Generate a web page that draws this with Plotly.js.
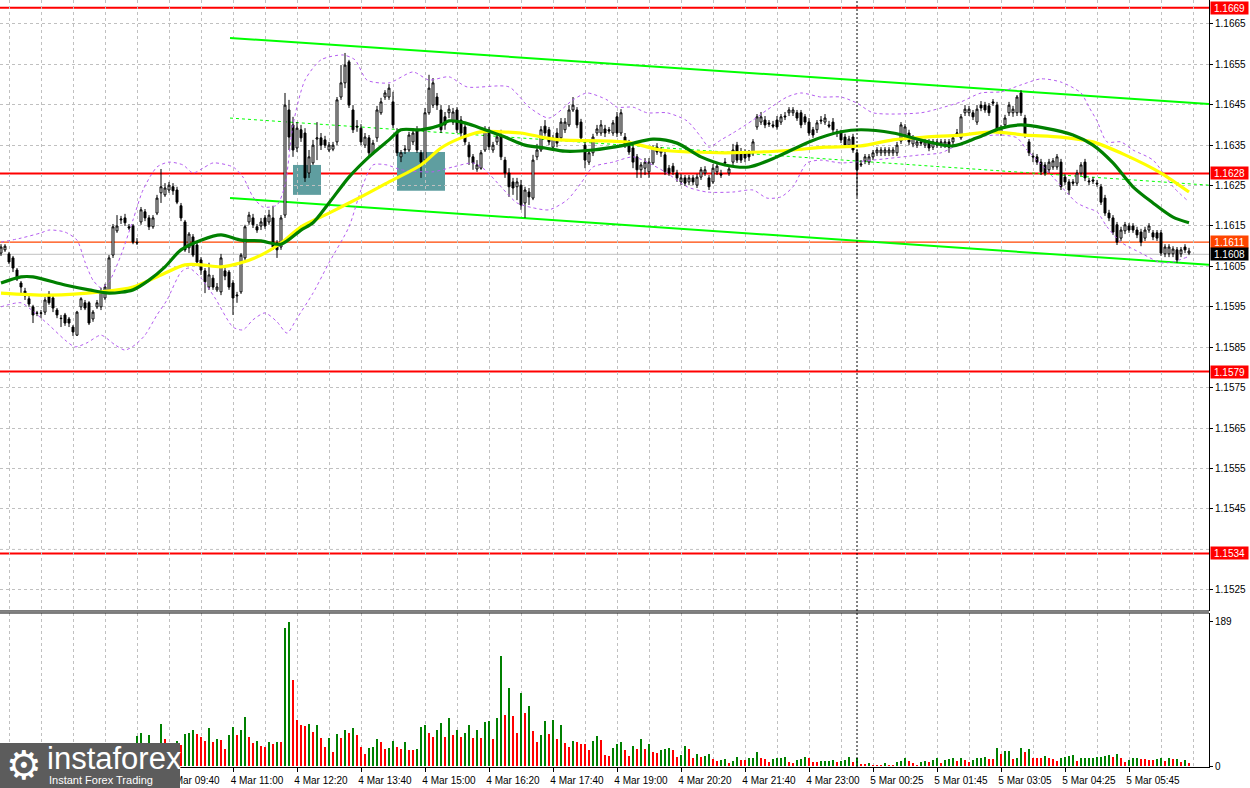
<!DOCTYPE html>
<html>
<head>
<meta charset="utf-8">
<script src="https://cdn.plot.ly/plotly-3.0.1.min.js"></script>
<style>html,body{margin:0;padding:0;background:#fff;}#chart{width:1250px;height:788px;}</style>
</head>
<body>
<div id="chart"></div>
<script>
// ---- candle data (EUR/USD M5) ----
const open = [1.16083,1.16091,1.16081,1.16071,1.16041,1.16009,1.15989,1.15970,1.15950,1.15935,
1.15934,1.15937,1.15982,1.15972,1.15942,1.15922,1.15930,1.15920,1.15900,1.15880,
1.15950,1.15960,1.15960,1.15920,1.15950,1.15950,1.15972,1.15987,1.16078,1.16138,
1.16165,1.16170,1.16148,1.16150,1.16110,1.16160,1.16185,1.16170,1.16148,1.16182,
1.16232,1.16227,1.16239,1.16247,1.16239,1.16200,1.16160,1.16096,1.16123,1.16103,
1.16066,1.16039,1.15999,1.16021,1.15992,1.15987,1.16039,1.16036,1.16009,1.15977,
1.15987,1.16071,1.16160,1.16170,1.16148,1.16150,1.16170,1.16160,1.16170,1.16108,
1.16098,1.16177,1.16437,1.16400,1.16343,1.16388,1.16380,1.16281,1.16306,1.16365,
1.16368,1.16363,1.16338,1.16340,1.16358,1.16469,1.16504,1.16556,1.16437,1.16397,
1.16392,1.16350,1.16368,1.16331,1.16368,1.16430,1.16469,1.16469,1.16457,1.16383,
1.16321,1.16338,1.16338,1.16358,1.16388,1.16331,1.16313,1.16430,1.16449,1.16469,
1.16437,1.16420,1.16430,1.16407,1.16437,1.16412,1.16395,1.16350,1.16321,1.16291,
1.16293,1.16338,1.16388,1.16338,1.16358,1.16375,1.16313,1.16281,1.16259,1.16247,
1.16251,1.16207,1.16234,1.16219,1.16321,1.16338,1.16397,1.16388,1.16345,1.16380,
1.16368,1.16388,1.16400,1.16437,1.16437,1.16407,1.16350,1.16308,1.16331,1.16380,
1.16380,1.16390,1.16388,1.16380,1.16420,1.16380,1.16370,1.16355,1.16343,1.16321,
1.16289,1.16293,1.16284,1.16306,1.16345,1.16331,1.16326,1.16293,1.16298,1.16281,
1.16259,1.16269,1.16259,1.16269,1.16251,1.16271,1.16281,1.16269,1.16259,1.16284,
1.16279,1.16308,1.16281,1.16308,1.16350,1.16333,1.16333,1.16331,1.16331,1.16395,
1.16407,1.16412,1.16405,1.16400,1.16412,1.16407,1.16422,1.16430,1.16430,1.16430,
1.16430,1.16420,1.16407,1.16388,1.16388,1.16412,1.16407,1.16400,1.16407,1.16383,
1.16380,1.16370,1.16350,1.16370,1.16331,1.16301,1.16311,1.16308,1.16321,1.16331,
1.16331,1.16331,1.16331,1.16331,1.16331,1.16360,1.16375,1.16380,1.16353,1.16350,
1.16358,1.16350,1.16358,1.16345,1.16350,1.16350,1.16350,1.16358,1.16358,1.16378,
1.16368,1.16430,1.16430,1.16430,1.16407,1.16449,1.16449,1.16447,1.16457,1.16449,
1.16380,1.16400,1.16430,1.16430,1.16430,1.16479,1.16417,1.16358,1.16323,1.16321,
1.16308,1.16301,1.16289,1.16296,1.16296,1.16308,1.16271,1.16259,1.16259,1.16256,
1.16281,1.16308,1.16259,1.16264,1.16256,1.16247,1.16219,1.16182,1.16170,1.16153,
1.16120,1.16138,1.16150,1.16150,1.16140,1.16135,1.16120,1.16140,1.16133,1.16133,
1.16133,1.16081,1.16081,1.16081,1.16091,1.16081,1.16098,1.16083];
const high = [1.16105,1.16105,1.16086,1.16076,1.16046,1.16014,1.15997,1.15977,1.15955,1.15940,
1.15942,1.15974,1.15989,1.15977,1.15947,1.15930,1.15935,1.15925,1.15905,1.15940,
1.15974,1.15967,1.15964,1.15942,1.15967,1.15997,1.16007,1.16078,1.16155,1.16177,
1.16175,1.16180,1.16155,1.16155,1.16120,1.16197,1.16192,1.16177,1.16177,1.16227,
1.16291,1.16256,1.16259,1.16256,1.16247,1.16207,1.16165,1.16135,1.16130,1.16108,
1.16073,1.16046,1.16059,1.16029,1.16009,1.16081,1.16046,1.16041,1.16016,1.15987,
1.16083,1.16153,1.16185,1.16180,1.16155,1.16170,1.16177,1.16190,1.16200,1.16115,
1.16177,1.16479,1.16462,1.16420,1.16407,1.16400,1.16392,1.16338,1.16363,1.16407,
1.16380,1.16373,1.16358,1.16358,1.16469,1.16548,1.16578,1.16561,1.16449,1.16412,
1.16402,1.16380,1.16375,1.16363,1.16447,1.16467,1.16486,1.16501,1.16482,1.16392,
1.16338,1.16350,1.16383,1.16392,1.16397,1.16338,1.16442,1.16524,1.16516,1.16479,
1.16449,1.16432,1.16449,1.16442,1.16444,1.16422,1.16402,1.16358,1.16328,1.16313,
1.16338,1.16397,1.16395,1.16358,1.16380,1.16388,1.16321,1.16293,1.16269,1.16269,
1.16264,1.16247,1.16244,1.16326,1.16353,1.16397,1.16412,1.16395,1.16375,1.16392,
1.16417,1.16417,1.16449,1.16469,1.16444,1.16415,1.16358,1.16338,1.16378,1.16400,
1.16412,1.16400,1.16395,1.16412,1.16432,1.16439,1.16380,1.16363,1.16350,1.16328,
1.16308,1.16318,1.16318,1.16350,1.16355,1.16345,1.16338,1.16301,1.16306,1.16289,
1.16279,1.16276,1.16276,1.16276,1.16279,1.16296,1.16298,1.16276,1.16303,1.16308,
1.16289,1.16318,1.16301,1.16353,1.16358,1.16343,1.16340,1.16338,1.16365,1.16427,
1.16432,1.16422,1.16412,1.16410,1.16422,1.16427,1.16432,1.16444,1.16444,1.16437,
1.16437,1.16427,1.16417,1.16395,1.16412,1.16422,1.16427,1.16410,1.16417,1.16390,
1.16388,1.16378,1.16373,1.16378,1.16338,1.16313,1.16328,1.16328,1.16338,1.16345,
1.16345,1.16345,1.16345,1.16345,1.16358,1.16407,1.16402,1.16388,1.16375,1.16365,
1.16365,1.16365,1.16365,1.16365,1.16365,1.16365,1.16365,1.16365,1.16375,1.16390,
1.16427,1.16449,1.16447,1.16437,1.16449,1.16459,1.16457,1.16454,1.16464,1.16457,
1.16400,1.16425,1.16457,1.16447,1.16474,1.16486,1.16425,1.16365,1.16331,1.16328,
1.16316,1.16308,1.16316,1.16318,1.16328,1.16316,1.16279,1.16266,1.16266,1.16289,
1.16308,1.16316,1.16269,1.16271,1.16264,1.16254,1.16227,1.16190,1.16177,1.16160,
1.16148,1.16160,1.16157,1.16157,1.16148,1.16143,1.16148,1.16157,1.16140,1.16140,
1.16140,1.16105,1.16105,1.16100,1.16098,1.16098,1.16105,1.16096];
const low = [1.16076,1.16086,1.16056,1.16036,1.16014,1.15979,1.15967,1.15950,1.15910,1.15927,
1.15922,1.15930,1.15955,1.15937,1.15922,1.15900,1.15903,1.15900,1.15878,1.15878,
1.15942,1.15942,1.15905,1.15913,1.15945,1.15942,1.15967,1.15982,1.16071,1.16133,
1.16155,1.16150,1.16140,1.16105,1.16103,1.16153,1.16162,1.16140,1.16143,1.16177,
1.16207,1.16222,1.16232,1.16227,1.16204,1.16162,1.16086,1.16083,1.16073,1.16051,
1.16029,1.15984,1.15992,1.15992,1.15987,1.15979,1.16016,1.15992,1.15930,1.15960,
1.15982,1.16066,1.16153,1.16145,1.16133,1.16140,1.16143,1.16153,1.16091,1.16071,
1.16091,1.16170,1.16338,1.16321,1.16333,1.16358,1.16259,1.16269,1.16301,1.16313,
1.16338,1.16343,1.16333,1.16335,1.16350,1.16462,1.16491,1.16442,1.16380,1.16383,
1.16350,1.16343,1.16323,1.16326,1.16358,1.16425,1.16462,1.16462,1.16392,1.16323,
1.16308,1.16328,1.16333,1.16350,1.16331,1.16269,1.16306,1.16425,1.16442,1.16437,
1.16380,1.16388,1.16417,1.16400,1.16380,1.16368,1.16350,1.16301,1.16289,1.16284,
1.16289,1.16333,1.16338,1.16331,1.16350,1.16313,1.16269,1.16222,1.16227,1.16214,
1.16190,1.16170,1.16202,1.16214,1.16313,1.16333,1.16373,1.16350,1.16338,1.16345,
1.16360,1.16380,1.16395,1.16432,1.16392,1.16360,1.16293,1.16301,1.16323,1.16373,
1.16373,1.16370,1.16378,1.16373,1.16370,1.16373,1.16343,1.16326,1.16293,1.16269,
1.16269,1.16276,1.16269,1.16301,1.16326,1.16321,1.16276,1.16274,1.16276,1.16259,
1.16251,1.16249,1.16251,1.16251,1.16244,1.16264,1.16274,1.16239,1.16254,1.16276,
1.16269,1.16298,1.16274,1.16301,1.16306,1.16306,1.16308,1.16311,1.16323,1.16388,
1.16400,1.16392,1.16395,1.16392,1.16388,1.16400,1.16412,1.16422,1.16422,1.16410,
1.16392,1.16400,1.16373,1.16368,1.16380,1.16402,1.16400,1.16392,1.16380,1.16370,
1.16355,1.16343,1.16343,1.16331,1.16222,1.16296,1.16303,1.16301,1.16313,1.16323,
1.16323,1.16323,1.16323,1.16323,1.16323,1.16353,1.16368,1.16350,1.16345,1.16343,
1.16348,1.16343,1.16335,1.16338,1.16343,1.16343,1.16343,1.16331,1.16350,1.16370,
1.16363,1.16422,1.16422,1.16412,1.16400,1.16434,1.16430,1.16422,1.16447,1.16380,
1.16373,1.16392,1.16422,1.16420,1.16422,1.16422,1.16368,1.16323,1.16308,1.16301,
1.16276,1.16274,1.16281,1.16289,1.16289,1.16239,1.16251,1.16227,1.16249,1.16249,
1.16274,1.16261,1.16251,1.16254,1.16247,1.16202,1.16175,1.16162,1.16128,1.16103,
1.16113,1.16130,1.16133,1.16133,1.16120,1.16100,1.16113,1.16133,1.16115,1.16113,
1.16076,1.16073,1.16073,1.16073,1.16059,1.16073,1.16083,1.16078];
const close = [1.16098,1.16100,1.16061,1.16046,1.16019,1.15999,1.15977,1.15957,1.15930,1.15934,
1.15935,1.15967,1.15960,1.15947,1.15930,1.15921,1.15910,1.15910,1.15888,1.15937,
1.15970,1.15947,1.15910,1.15937,1.15960,1.15987,1.15999,1.16071,1.16148,1.16150,
1.16167,1.16158,1.16145,1.16110,1.16108,1.16190,1.16170,1.16148,1.16170,1.16219,
1.16247,1.16244,1.16251,1.16237,1.16209,1.16170,1.16091,1.16130,1.16078,1.16061,
1.16041,1.16012,1.16029,1.15999,1.15999,1.16071,1.16026,1.15999,1.15972,1.15979,
1.16078,1.16148,1.16177,1.16153,1.16140,1.16160,1.16150,1.16177,1.16098,1.16091,
1.16170,1.16449,1.16370,1.16338,1.16392,1.16368,1.16269,1.16321,1.16350,1.16368,
1.16350,1.16350,1.16350,1.16350,1.16462,1.16504,1.16548,1.16449,1.16388,1.16395,
1.16358,1.16370,1.16331,1.16355,1.16437,1.16457,1.16479,1.16491,1.16400,1.16331,
1.16331,1.16340,1.16375,1.16380,1.16338,1.16308,1.16430,1.16491,1.16504,1.16449,
1.16388,1.16400,1.16439,1.16432,1.16388,1.16380,1.16358,1.16321,1.16306,1.16301,
1.16331,1.16388,1.16346,1.16350,1.16370,1.16321,1.16281,1.16247,1.16244,1.16259,
1.16202,1.16239,1.16222,1.16313,1.16338,1.16388,1.16380,1.16358,1.16368,1.16355,
1.16407,1.16407,1.16437,1.16449,1.16400,1.16368,1.16313,1.16331,1.16370,1.16390,
1.16400,1.16380,1.16385,1.16405,1.16380,1.16430,1.16350,1.16333,1.16308,1.16289,
1.16301,1.16308,1.16308,1.16343,1.16333,1.16338,1.16284,1.16281,1.16284,1.16269,
1.16269,1.16256,1.16269,1.16259,1.16271,1.16289,1.16289,1.16247,1.16293,1.16298,
1.16276,1.16306,1.16291,1.16338,1.16313,1.16313,1.16318,1.16321,1.16358,1.16420,
1.16420,1.16400,1.16402,1.16397,1.16395,1.16420,1.16420,1.16437,1.16437,1.16417,
1.16400,1.16407,1.16380,1.16375,1.16405,1.16410,1.16417,1.16397,1.16388,1.16380,
1.16363,1.16350,1.16365,1.16338,1.16289,1.16303,1.16321,1.16321,1.16331,1.16338,
1.16338,1.16338,1.16338,1.16338,1.16350,1.16400,1.16395,1.16358,1.16368,1.16358,
1.16355,1.16358,1.16343,1.16358,1.16358,1.16358,1.16358,1.16345,1.16368,1.16380,
1.16420,1.16439,1.16439,1.16420,1.16439,1.16442,1.16437,1.16430,1.16454,1.16388,
1.16392,1.16417,1.16449,1.16439,1.16469,1.16430,1.16375,1.16331,1.16321,1.16308,
1.16284,1.16281,1.16308,1.16311,1.16321,1.16247,1.16259,1.16239,1.16256,1.16281,
1.16301,1.16269,1.16261,1.16261,1.16254,1.16209,1.16182,1.16170,1.16135,1.16110,
1.16140,1.16153,1.16140,1.16140,1.16128,1.16110,1.16140,1.16150,1.16123,1.16120,
1.16083,1.16098,1.16098,1.16093,1.16066,1.16091,1.16091,1.16088];

// tick volumes
const volume = [18,22,15,20,25,19,16,21,26,14,
12,20,23,17,15,19,22,18,24,27,
21,16,23,19,14,22,20,26,28,18,
13,16,12,25,39,43,28,41,26,24,
55,35,28,25,33,27,42,43,47,42,
38,33,50,31,35,34,22,41,51,41,
47,64,38,30,33,26,25,31,29,31,
31,181,189,113,60,54,52,55,45,54,
37,25,37,18,42,37,47,43,50,41,
25,16,24,25,35,31,22,24,33,25,
22,31,21,21,22,51,54,43,38,47,
56,38,63,41,47,38,43,54,37,47,
37,58,59,35,63,144,67,102,65,43,
96,69,79,46,31,41,59,42,60,35,
54,30,25,33,31,29,29,21,33,39,
34,14,13,24,29,31,21,13,26,22,
35,22,29,18,17,21,22,23,21,12,
14,26,22,10,16,12,13,16,9,7,
8,9,4,7,12,8,8,10,11,18,
10,9,5,9,10,11,12,5,4,8,
9,12,10,5,5,6,6.5,7,7.5,5,
7,8,12,5,10,3,3,4,1,1,
1,4,1,1,5,7,10,7,4,1,
5,7,5,8,10,4,8,9,10,7,
10,8,5,8,10,11,12,9,9,24,
16,19,20,9,10,23,18,22,10,10,
10,13,10,9,6,10,12,13,14,6,
10,10.3,10.6,10.9,11.2,11.5,13,14.4,12,16,
10.5,5,8,10.5,10.8,9,9,8,8,9,
10.5,6.5,10.5,9,9.5,5,8,4];

// moving averages (read at sample candles)
const maSlowX = [0,12,25,33,40,46,50,55,60,65,70,75,82,90,97,105,110,115,120,125,130,135,140,156,165,173,181,190,198,206,215,223,231,240,248,256,265,273,281,290,297];
const maSlowY = [1.15984,1.15979,1.15987,1.15999,1.16029,1.16054,1.16054,1.16049,1.16059,1.16078,1.16108,1.16148,1.16182,1.16222,1.16259,1.16301,1.16343,1.16368,1.16383,1.16383,1.16380,1.16370,1.16363,1.16358,1.16338,1.16333,1.16331,1.16333,1.16338,1.16345,1.16348,1.16363,1.16370,1.16375,1.16383,1.16375,1.16370,1.16358,1.16326,1.16281,1.16234];
const maFastX = [0,5,8,16,22,27,33,37,41,45,50,55,60,65,70,75,78,82,87,92,97,100,105,110,112,116,121,126,131,136,141,148,156,163,169,175,181,187,194,202,210,215,223,231,238,244,250,255,261,268,273,278,283,288,293,297];
const maFastY = [1.16009,1.16024,1.16024,1.16004,1.15992,1.15984,1.15992,1.16016,1.16049,1.16091,1.16115,1.16128,1.16115,1.16113,1.16105,1.16140,1.16158,1.16207,1.16271,1.16321,1.16363,1.16388,1.16388,1.16400,1.16410,1.16405,1.16388,1.16370,1.16350,1.16343,1.16335,1.16338,1.16350,1.16365,1.16355,1.16321,1.16301,1.16296,1.16321,1.16358,1.16383,1.16388,1.16380,1.16360,1.16348,1.16368,1.16392,1.16400,1.16392,1.16375,1.16350,1.16306,1.16247,1.16207,1.16172,1.16158];

// Bollinger bands
const bandUpX = [0,5,10,12,16,19,21,23,25,27,30,33,35.5,39,42,45.5,48,50.5,53,58,60.5,63,65.5,69,71,73,76,80,85.5,88.5,91.5,97,103,107,112,116.5,127,132,137,143,146.5,151.5,154,158,161.5,166.5,171.5,175,177,180,183,188,191.5,196.5,200,205,210,214,218,230,235,240,245,250,255,260,265,270,272,274,276.5,280,283,288,293,296.5];
const bandUpY = [1.16110,1.16120,1.16133,1.16140,1.16135,1.16115,1.16061,1.16016,1.15997,1.16012,1.16078,1.16165,1.16239,1.16296,1.16308,1.16301,1.16281,1.16293,1.16306,1.16296,1.16271,1.16222,1.16197,1.16202,1.16251,1.16400,1.16511,1.16561,1.16573,1.16561,1.16511,1.16504,1.16531,1.16511,1.16519,1.16494,1.16494,1.16444,1.16417,1.16462,1.16479,1.16462,1.16444,1.16444,1.16430,1.16430,1.16410,1.16370,1.16345,1.16363,1.16380,1.16412,1.16437,1.16469,1.16479,1.16469,1.16469,1.16454,1.16430,1.16430,1.16442,1.16457,1.16479,1.16482,1.16499,1.16514,1.16506,1.16479,1.16444,1.16410,1.16358,1.16358,1.16338,1.16313,1.16247,1.16214];
const bandLoX = [0,5,8.5,12,16,18.5,21.5,25,28.5,31,33.5,36,39,41.5,45,47,50,53.5,58,60.5,63,66,69,71.5,74,78,82,87,90,93,96.5,100,108,113,118,121,125,129,133,137,141.5,145,148,153,158,161.5,166.5,171.5,176.5,183,188,191.5,195,198,201.5,205,210,218,230,235,240,244,250,254,256.5,259,263,266.5,269,271.5,274,276.5,280,285,290,293,296.5];
const bandLoY = [1.15950,1.15960,1.15935,1.15905,1.15868,1.15851,1.15861,1.15880,1.15856,1.15843,1.15856,1.15880,1.15930,1.15967,1.16036,1.16046,1.16021,1.15972,1.15900,1.15893,1.15918,1.15935,1.15913,1.15885,1.15922,1.15984,1.16059,1.16148,1.16239,1.16301,1.16301,1.16289,1.16284,1.16296,1.16306,1.16289,1.16247,1.16207,1.16195,1.16190,1.16214,1.16256,1.16296,1.16308,1.16321,1.16308,1.16281,1.16247,1.16234,1.16234,1.16239,1.16219,1.16222,1.16247,1.16306,1.16313,1.16306,1.16313,1.16326,1.16331,1.16355,1.16370,1.16375,1.16368,1.16338,1.16313,1.16271,1.16232,1.16207,1.16195,1.16185,1.16148,1.16110,1.16083,1.16059,1.16061,1.16073];

// drawn objects
const channelUpper = {x: [57.25, 302], y: [1.16615, 1.16452]};
const channelLower = {x: [57.25, 302], y: [1.16219, 1.16054]};
const channelMid   = {x: [57.25, 302], y: [1.16417, 1.16251]};
const zones = [{x: [73, 80], y: [1.16227, 1.16301]}, {x: [99, 111], y: [1.16237, 1.16333]}];
const redLevels = [1.1669, 1.1628, 1.1579, 1.1534];
const orangeLevel = 1.1611;
const bidLevel = 1.1608;
const sessionMarker = 214;

// axis ticks (labels hidden under the logo / level boxes are left out)
const priceTicks = [1.1525,1.1545,1.1555,1.1565,1.1575,1.1585,1.1595,1.1605,1.1615,1.1625,1.1635,1.1645,1.1655,1.1665];
const priceGridExtra = [1.1535];
const tickIdx = [42,58,74,90,106,122,138,154,170,186,202,218,234,250,266,282];
const tickLabels = ["4 Mar 09:40","4 Mar 11:00","4 Mar 12:20","4 Mar 13:40","4 Mar 15:00","4 Mar 16:20","4 Mar 17:40","4 Mar 19:00","4 Mar 20:20","4 Mar 21:40","4 Mar 23:00","5 Mar 00:25","5 Mar 01:45","5 Mar 03:05","5 Mar 04:25","5 Mar 05:45"];
const volTicks = [0, 189];

// ---- build ----
const idx = open.map((_, i) => i);
const volColors = volume.map((v, i) => (i > 0 && v <= volume[i - 1]) ? '#ff0000' : '#008000');
const FONT = 'Liberation Sans, Arial, sans-serif';
const GRID = '#c0c0c0';

const traces = [
  {type: 'candlestick', x: idx, open: open, high: high, low: low, close: close,
   xaxis: 'x', yaxis: 'y', whiskerwidth: 0, hoverinfo: 'skip',
   increasing: {line: {color: '#000000', width: 1}, fillcolor: '#ffffff'},
   decreasing: {line: {color: '#000000', width: 1}, fillcolor: '#000000'}},
  {type: 'scatter', mode: 'lines', x: bandUpX, y: bandUpY, xaxis: 'x', yaxis: 'y',
   line: {color: '#b45cf0', width: 1, dash: '3px,3px', shape: 'spline', smoothing: 0.7}, hoverinfo: 'skip'},
  {type: 'scatter', mode: 'lines', x: bandLoX, y: bandLoY, xaxis: 'x', yaxis: 'y',
   line: {color: '#b45cf0', width: 1, dash: '3px,3px', shape: 'spline', smoothing: 0.7}, hoverinfo: 'skip'},
  {type: 'scatter', mode: 'lines', x: maSlowX, y: maSlowY, xaxis: 'x', yaxis: 'y',
   line: {color: '#ffff00', width: 3.2, shape: 'spline', smoothing: 0.8}, hoverinfo: 'skip'},
  {type: 'scatter', mode: 'lines', x: maFastX, y: maFastY, xaxis: 'x', yaxis: 'y',
   line: {color: '#008000', width: 3.2, shape: 'spline', smoothing: 0.8}, hoverinfo: 'skip'},
  {type: 'bar', x: idx, y: volume, xaxis: 'x', yaxis: 'y2', width: 0.72,
   marker: {color: volColors, line: {width: 0}}, hoverinfo: 'skip'}
];

const shapes = [];
zones.forEach(z => shapes.push({type: 'rect', xref: 'x', yref: 'y', x0: z.x[0], x1: z.x[1], y0: z.y[0], y1: z.y[1],
  fillcolor: '#5f9ea0', line: {width: 0}, layer: 'below'}));
priceGridExtra.forEach(p => shapes.push({type: 'line', xref: 'paper', yref: 'y', x0: 0, x1: 1, y0: p, y1: p,
  line: {color: GRID, width: 1, dash: '3px,3px'}, layer: 'below'}));
redLevels.forEach(p => shapes.push({type: 'line', xref: 'paper', yref: 'y', x0: 0, x1: 1, y0: p, y1: p,
  line: {color: '#ff0000', width: 2}, layer: 'between'}));
shapes.push({type: 'line', xref: 'paper', yref: 'y', x0: 0, x1: 1, y0: orangeLevel, y1: orangeLevel,
  line: {color: '#ff4500', width: 1.2}, layer: 'between'});
shapes.push({type: 'line', xref: 'paper', yref: 'y', x0: 0, x1: 1, y0: bidLevel, y1: bidLevel,
  line: {color: '#c0c0c0', width: 1}, layer: 'between'});
[channelUpper, channelLower].forEach(c => shapes.push({type: 'line', xref: 'x', yref: 'y',
  x0: c.x[0], x1: c.x[1], y0: c.y[0], y1: c.y[1], line: {color: '#00ff00', width: 2}, layer: 'between'}));
shapes.push({type: 'line', xref: 'x', yref: 'y', x0: channelMid.x[0], x1: channelMid.x[1], y0: channelMid.y[0], y1: channelMid.y[1],
  line: {color: '#00ff00', width: 1, dash: '3px,3px'}, layer: 'between'});
shapes.push({type: 'line', xref: 'x', yref: 'paper', x0: sessionMarker, x1: sessionMarker, y0: 0, y1: 1,
  line: {color: '#000000', width: 1, dash: '2px,2px'}, layer: 'above'});
// panel separators
shapes.push({type: 'line', xref: 'paper', yref: 'paper', x0: 0, x1: 1, y0: 0.2034, y1: 0.2034, line: {color: '#000', width: 1}});
shapes.push({type: 'line', xref: 'paper', yref: 'paper', x0: 0, x1: 1, y0: 0.2008, y1: 0.2008, line: {color: '#000', width: 1}});
// logo box
shapes.push({type: 'rect', xref: 'paper', yref: 'paper', x0: -0.002, x1: 180/1209, y0: -22/767, y1: 24/767,
  fillcolor: '#5c5c5c', line: {width: 0}, layer: 'above'});

const annotations = [];
function levelTag(p, bg) {
  annotations.push({xref: 'paper', yref: 'y', x: 1, y: p, xanchor: 'left', yanchor: 'middle', xshift: 1,
    text: p.toFixed(4), showarrow: false, bgcolor: bg, borderpad: 0, width: 37, height: 12,
    font: {family: FONT, size: 10, color: '#ffffff'}});
}
redLevels.forEach(p => levelTag(p, '#ff0000'));
levelTag(orangeLevel, '#ff4500');
levelTag(bidLevel, '#000000');
annotations.push({xref: 'paper', yref: 'paper', x: 24/1209, y: 2/767, xanchor: 'center', yanchor: 'middle',
  text: '⚙', showarrow: false, borderpad: 0, font: {family: 'DejaVu Sans', size: 40, color: '#ffffff'}});
annotations.push({xref: 'paper', yref: 'paper', x: 45/1209, y: 9/767, xanchor: 'left', yanchor: 'middle',
  text: 'instaforex', showarrow: false, font: {family: FONT, size: 31, color: '#ffffff'}});
annotations.push({xref: 'paper', yref: 'paper', x: 47/1209, y: -13/767, xanchor: 'left', yanchor: 'middle',
  text: 'Instant Forex Trading', showarrow: false, font: {family: FONT, size: 11, color: '#ffffff'}});

const layout = {
  width: 1250, height: 788,
  margin: {l: 0, r: 41, t: 0, b: 21, autoexpand: false},
  paper_bgcolor: '#ffffff', plot_bgcolor: '#ffffff',
  showlegend: false, hovermode: false, bargap: 0,
  xaxis: {
    range: [-0.25, 302], anchor: 'y2', domain: [0, 1],
    tickmode: 'array', tickvals: tickIdx, ticktext: tickLabels,
    ticks: 'outside', ticklen: 4, tickcolor: '#000', ticklabelshift: 24,
    tickfont: {family: FONT, size: 10, color: '#000'},
    showgrid: true, gridcolor: GRID, griddash: '3px,3px', gridwidth: 1,
    minor: {tick0: 2, dtick: 8, showgrid: true, gridcolor: GRID, griddash: '3px,3px', gridwidth: 1, ticks: ''},
    showline: true, linecolor: '#000', linewidth: 1, zeroline: false,
    rangeslider: {visible: false}, fixedrange: true
  },
  yaxis: {
    domain: [0.2034, 1], range: [1.151977, 1.16709], side: 'right', anchor: 'x',
    tickmode: 'array', tickvals: priceTicks, tickformat: '.4f',
    ticks: 'outside', ticklen: 3, tickcolor: '#000',
    tickfont: {family: FONT, size: 10, color: '#000'},
    showgrid: true, gridcolor: GRID, griddash: '3px,3px', gridwidth: 1,
    showline: true, linecolor: '#000', linewidth: 1, zeroline: false, fixedrange: true
  },
  yaxis2: {
    domain: [0, 0.2008], range: [-1.3, 200.4], side: 'right', anchor: 'x',
    tickmode: 'array', tickvals: volTicks,
    ticks: 'outside', ticklen: 3, tickcolor: '#000',
    tickfont: {family: FONT, size: 10, color: '#000'},
    showgrid: false, showline: true, linecolor: '#000', linewidth: 1, zeroline: false, fixedrange: true
  },
  shapes: shapes,
  annotations: annotations
};

Plotly.newPlot('chart', traces, layout, {staticPlot: true, displayModeBar: false});
</script>
</body>
</html>
